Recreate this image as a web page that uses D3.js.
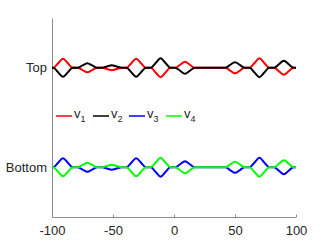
<!DOCTYPE html>
<html>
<head>
<meta charset="utf-8">
<script src="https://cdn.jsdelivr.net/npm/d3@7"></script>
<style>
  body { margin: 0; background: #fff; }
  svg text { font-family: "Liberation Sans", Arial, sans-serif; fill: #262626; }
</style>
</head>
<body>
<div id="chart"></div>
<script>
/* data */
const xs = [-100, -99, -95, -91, -87, -83,
            -79, -75, -71, -67, -63,
            -59, -55, -51, -47, -43,
            -39, -35, -31, -27, -23,
            -19, -15, -11, -7, -3,
            1, 5, 9, 13, 17,
            21, 25, 29, 33, 37,
            42, 46, 50, 54, 58,
            62, 66, 70, 74, 78,
            82, 86, 90, 94, 98, 100];
// red (top) and blue (bottom) share the same bump pattern; black/green mirror it
const v1 = [0, 0, 0.045, 0.09, 0.045, 0,
            0, -0.023, -0.046, -0.023, 0,
            0, -0.012, -0.024, -0.012, 0,
            0, 0.045, 0.09, 0.045, 0,
            0, -0.048, -0.095, -0.048, 0,
            0, 0.03, 0.06, 0.03, 0,
            0, 0, 0, 0, 0,
            0, -0.028, -0.056, -0.028, 0,
            0, 0.048, 0.095, 0.048, 0,
            0, -0.035, -0.07, -0.035, 0, 0];
const v2 = v1.map(d => -d);
const v3 = v1.slice();
const v4 = v2.slice();

const rowNames = ["Bottom", "Top"];
const rowOffsets = [0, 1];
const seriesNames = ["v1", "v2", "v3", "v4"];
const seriesColors = ["#ff0000", "#000000", "#0000ff", "#00ff00"];
const xTicks = [-100, -50, 0, 50, 100];

const width = 327, height = 245;
const margin = { top: 18, right: 31, bottom: 28, left: 52 };

const svg = d3.select("#chart").append("svg")
  .attr("width", width)
  .attr("height", height);

const x = d3.scaleLinear().domain([-100, 100]).range([margin.left, width - margin.right]);
const y = d3.scaleLinear().domain([-0.5, 1.5]).range([height - margin.bottom, margin.top]);

// x axis
const xAxis = svg.append("g")
  .attr("transform", `translate(0,${height - margin.bottom})`)
  .call(d3.axisBottom(x).tickValues(xTicks).tickFormat(d => String(d))
    .tickSizeInner(-2.5).tickSizeOuter(0).tickPadding(9));
xAxis.select(".domain").attr("stroke", "#8c8c8c");
xAxis.selectAll(".tick line").attr("stroke", "#8c8c8c");
xAxis.selectAll("text").style("font-size", "13px").attr("fill", "#262626");

// y axis
const yAxis = svg.append("g")
  .attr("transform", `translate(${margin.left},0)`)
  .call(d3.axisLeft(y).tickValues(rowOffsets).tickFormat((d, i) => rowNames[i])
    .tickSizeInner(0).tickSizeOuter(0).tickPadding(5));
yAxis.select(".domain").attr("stroke", "#8c8c8c");
yAxis.selectAll("text").style("font-size", "13px").attr("fill", "#262626");

const series = [
  { name: seriesNames[0], vals: v1, off: rowOffsets[1], color: seriesColors[0] },
  { name: seriesNames[1], vals: v2, off: rowOffsets[1], color: seriesColors[1] },
  { name: seriesNames[2], vals: v3, off: rowOffsets[0], color: seriesColors[2] },
  { name: seriesNames[3], vals: v4, off: rowOffsets[0], color: seriesColors[3] }
];

const line = d3.line()
  .x(d => x(d[0]))
  .y(d => y(d[1]))
  .curve(d3.curveMonotoneX);

svg.selectAll("path.series")
  .data(series)
  .join("path")
  .attr("class", "series")
  .attr("fill", "none")
  .attr("stroke", d => d.color)
  .attr("stroke-width", 2)
  .attr("d", d => line(xs.map((xv, i) => [xv, d.off + d.vals[i]])));

// legend (horizontal, no box)
const legX = [56, 93, 129, 166];
const legY = 116;
const leg = svg.selectAll("g.leg")
  .data(series)
  .join("g")
  .attr("class", "leg")
  .attr("transform", (d, i) => `translate(${legX[i]},${legY})`);
leg.append("line")
  .attr("x1", 0).attr("x2", 16)
  .attr("stroke", d => d.color)
  .attr("stroke-width", 1.5);
const lt = leg.append("text")
  .attr("x", 18)
  .attr("y", 2)
  .style("font-size", "13px");
lt.append("tspan").text("v");
lt.append("tspan")
  .attr("dy", 4)
  .style("font-size", "9px")
  .text(d => d.name.slice(1));
</script>
</body>
</html>
